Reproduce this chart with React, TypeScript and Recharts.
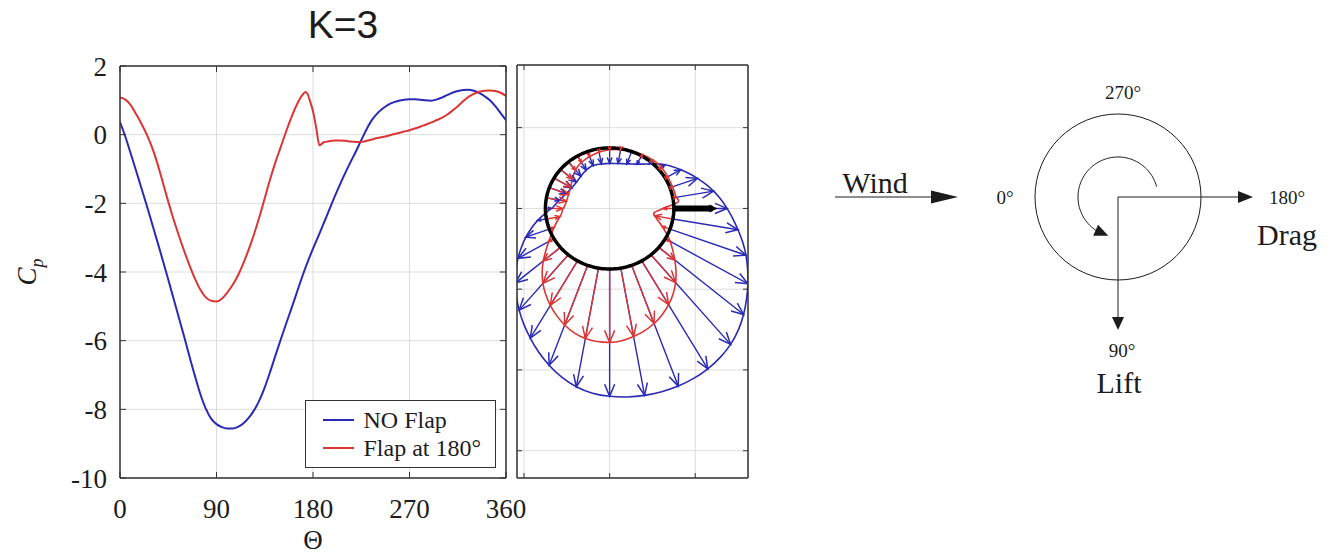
import React from 'react';
import {
  LineChart,
  Line,
  XAxis,
  YAxis,
  CartesianGrid,
  Legend,
  ComposedChart,
  Scatter,
  ReferenceDot,
} from 'recharts';

// ---------------- data ----------------
const theta = [
  0, 5, 10, 15, 20, 25, 30, 35, 40, 45, 50, 55, 60, 65, 70, 75, 80, 85, 90, 95, 100, 105, 110, 115, 120,
  125, 130, 135, 140, 145, 150, 155, 160, 165, 170, 173, 175, 177, 180, 183, 186, 190, 195, 200, 205, 210,
  215, 220, 225, 230, 235, 240, 245, 250, 255, 260, 265, 270, 275, 280, 285, 290, 295, 300, 305, 310, 315,
  320, 325, 330, 335, 340, 345, 350, 355, 360,
];

const cpNoFlap = [
  0.37, -0.06, -0.55, -1.05, -1.56, -2.07, -2.6, -3.13, -3.67, -4.22, -4.78, -5.34, -5.9, -6.48, -7.04, -7.56,
  -7.98, -8.27, -8.43, -8.52, -8.56, -8.56, -8.51, -8.41, -8.25, -8.03, -7.74, -7.36, -6.91, -6.43, -5.96, -5.5,
  -5.05, -4.59, -4.13, -3.87, -3.71, -3.55, -3.32, -3.1, -2.88, -2.58, -2.2, -1.82, -1.46, -1.12, -0.8, -0.49,
  -0.16, 0.16, 0.43, 0.62, 0.76, 0.87, 0.94, 0.99, 1.02, 1.03, 1.03, 1.02, 1.0, 0.99, 1.02, 1.08, 1.15, 1.22,
  1.27, 1.3, 1.31, 1.28, 1.22, 1.12, 1.0, 0.83, 0.63, 0.42,
];

const cpFlap180 = [
  1.08, 1.02, 0.86, 0.6, 0.32, 0.0, -0.38, -0.85, -1.4, -1.95, -2.47, -2.95, -3.4, -3.82, -4.2, -4.52, -4.74,
  -4.84, -4.86, -4.78, -4.6, -4.38, -4.1, -3.75, -3.35, -2.9, -2.4, -1.85, -1.3, -0.8, -0.35, 0.1, 0.52, 0.88,
  1.15, 1.24, 1.18, 1.0, 0.68, 0.2, -0.31, -0.22, -0.19, -0.17, -0.17, -0.18, -0.2, -0.21, -0.21, -0.18, -0.14,
  -0.1, -0.07, -0.03, 0.01, 0.05, 0.09, 0.13, 0.18, 0.23, 0.29, 0.35, 0.42, 0.49, 0.58, 0.7, 0.83, 0.97, 1.1,
  1.19, 1.25, 1.28, 1.29, 1.27, 1.22, 1.13,
];

const seriesNames = ['NO Flap', 'Flap at 180°'];
const thetaTicks = [0, 90, 180, 270, 360];
const cpTicks = [-10, -8, -6, -4, -2, 0, 2];
const panelXTicks = [-1, 0, 1];
const panelYTicks = [-3, -2, -1, 0, 1];
const arrowEvery = 10;

// ---------------- styles / layout ----------------
const BLUE = '#2a2ab6';
const RED = '#dc3535';
const FRAME = '#333333';
const GRID = '#dddddd';
const INK = '#1c1c1c';
const SERIF = '"Liberation Serif", "Times New Roman", serif';
const SANS = '"Liberation Sans", Arial, sans-serif';

const cylinderRadius = 0.75;
const arrowScale = 0.187;
const flapLength = 0.45;
const panelXDomain: [number, number] = [-1.082, 1.616];
const panelYDomain: [number, number] = [-3.338, 1.776];

// ---------------- derived tables ----------------
const mainData = theta.map((t, i) => ({ theta: t, noFlap: cpNoFlap[i], flap: cpFlap180[i] }));

const rad = (d: number) => (d * Math.PI) / 180;
const polarPoint = (t: number, cp: number) => {
  const r = cylinderRadius - arrowScale * cp;
  return { x: -r * Math.cos(rad(t)), y: -r * Math.sin(rad(t)) };
};
const envelope = (cps: number[]) => theta.map((t, i) => polarPoint(t, cps[i]));
const arrowRows = (cps: number[]) => {
  const rows: any[] = [];
  theta.forEach((t, i) => {
    if (t % arrowEvery !== 0 || t >= 360) return;
    const tail = { x: -cylinderRadius * Math.cos(rad(t)), y: -cylinderRadius * Math.sin(rad(t)), head: false };
    const h = polarPoint(t, cps[i]);
    rows.push(tail, { ...h, head: true, dx: h.x - tail.x, dy: h.y - tail.y }, { x: h.x, y: null, head: false });
  });
  return rows;
};
const cylinder = Array.from({ length: 181 }, (_, k) => ({
  x: cylinderRadius * Math.cos(rad(2 * k)),
  y: cylinderRadius * Math.sin(rad(2 * k)),
}));
const flapRows = [
  { x: cylinderRadius, y: 0, head: false },
  { x: cylinderRadius + flapLength, y: 0, head: true },
];

const blueArrows = arrowRows(cpNoFlap);
const redArrows = arrowRows(cpFlap180);
const blueEnvelope = envelope(cpNoFlap);
const redEnvelope = envelope(cpFlap180);

// ---------------- schematic (right-hand sketch) ----------------
const diagramX: [number, number] = [-298, 220];
const diagramY: [number, number] = [-137, 213];
const windShaft = [{ x: -283, y: 0 }, { x: -165, y: 0 }];
const dragShaft = [{ x: 0, y: 0 }, { x: 125, y: 0 }];
const liftShaft = [{ x: 0, y: 0 }, { x: 0, y: 124 }];
const spinRadius = 40;
const spinStart = 15;
const spinEnd = 244;
const spinTip = 256;
const spinHeadBase = 236;
const spinArc = Array.from({ length: Math.floor((spinEnd - spinStart) / 3) + 1 }, (_, k) => {
  const a = rad(spinStart + 3 * k);
  return { x: spinRadius * Math.cos(a), y: -spinRadius * Math.sin(a) };
});
const spinTipPt = { x: spinRadius * Math.cos(rad(spinTip)), y: -spinRadius * Math.sin(rad(spinTip)) };
const spinBasePt = { x: spinRadius * Math.cos(rad(spinHeadBase)), y: -spinRadius * Math.sin(rad(spinHeadBase)) };
const diagramHeads = [
  { x: -160, y: 0, angle: 0, len: 27, hw: 6.5 },
  { x: 135, y: 0, angle: 0, len: 15, hw: 6 },
  { x: 0, y: 133, angle: 90, len: 13, hw: 6 },
  {
    x: spinTipPt.x,
    y: spinTipPt.y,
    angle: (Math.atan2(spinTipPt.y - spinBasePt.y, spinTipPt.x - spinBasePt.x) * 180) / Math.PI,
    len: Math.hypot(spinTipPt.y - spinBasePt.y, spinTipPt.x - spinBasePt.x),
    hw: 6,
  },
];
const diagramLabels = [
  { x: -243, y: -4, text: 'Wind', size: 30, mid: false },
  { x: -113, y: 0, text: '0°', size: 19, mid: true },
  { x: 5, y: -105, text: '270°', size: 19, mid: true },
  { x: 169, y: 0, text: '180°', size: 19, mid: true },
  { x: 169, y: 48, text: 'Drag', size: 30, mid: false },
  { x: 4, y: 153, text: '90°', size: 19, mid: true },
  { x: 1, y: 196, text: 'Lift', size: 30, mid: false },
];

// ---------------- render helpers ----------------
const EmptyTick = () => <g />;

const openHead = (color: string) => (props: any) => {
  const { cx, cy, payload, index, points } = props;
  const key = `ah-${color}-${index}`;
  if (!payload || !payload.head || !Number.isFinite(cx) || !Number.isFinite(cy)) return <g key={key} />;
  let dx = (payload.dx || 0) * 85;
  let dy = -(payload.dy || 0) * 81;
  const prev = points && points[index - 1];
  if (prev && Number.isFinite(prev.x) && Number.isFinite(prev.y)) {
    dx = cx - prev.x;
    dy = cy - prev.y;
  }
  const len = Math.hypot(dx, dy);
  if (!(len > 0.5)) return <g key={key} />;
  const ux = dx / len;
  const uy = dy / len;
  const hl = Math.min(12, Math.max(3.5, len * 0.38));
  const hw = hl * 0.42;
  const bx = cx - ux * hl;
  const by = cy - uy * hl;
  return (
    <path
      key={key}
      d={`M${bx - uy * hw},${by + ux * hw}L${cx},${cy}L${bx + uy * hw},${by - ux * hw}`}
      fill="none"
      stroke={color}
      strokeWidth={1.5}
    />
  );
};

const flapHead = (props: any) => {
  const { cx, cy, payload, index } = props;
  const key = `fh-${index}`;
  if (!payload || !payload.head || !Number.isFinite(cx) || !Number.isFinite(cy)) return <g key={key} />;
  return <path key={key} d={`M${cx - 3},${cy - 4}L${cx + 5},${cy}L${cx - 3},${cy + 4}Z`} fill="#000" stroke="none" />;
};

const HeadShape = (props: any) => {
  const { cx, cy, payload } = props;
  if (!Number.isFinite(cx) || !Number.isFinite(cy)) return <g />;
  const a = rad(payload.angle);
  const ux = Math.cos(a);
  const uy = Math.sin(a);
  const bx = cx - ux * payload.len;
  const by = cy - uy * payload.len;
  return (
    <path
      d={`M${cx},${cy}L${bx - uy * payload.hw},${by + ux * payload.hw}L${bx + uy * payload.hw},${by - ux * payload.hw}Z`}
      fill={INK}
      stroke="none"
    />
  );
};

const LabelShape = (props: any) => {
  const { cx, cy, payload } = props;
  if (!Number.isFinite(cx) || !Number.isFinite(cy)) return <g />;
  return (
    <text
      x={cx}
      y={cy}
      textAnchor="middle"
      dominantBaseline={payload.mid ? 'central' : 'alphabetic'}
      fontFamily={SERIF}
      fontSize={payload.size}
      fill={INK}
    >
      {payload.text}
    </text>
  );
};

const LegendBox = (props: any) => {
  const items = [...(props.payload || [])].sort(
    (a: any, b: any) => seriesNames.indexOf(a.value) - seriesNames.indexOf(b.value)
  );
  return (
    <div
      style={{
        width: 191,
        height: 68,
        boxSizing: 'border-box',
        border: `1.5px solid ${FRAME}`,
        background: '#fff',
        paddingTop: 5,
      }}
    >
      {items.map((it: any) => (
        <div key={it.value} style={{ display: 'flex', alignItems: 'center', height: 28 }}>
          <div style={{ width: 31, height: 2, background: it.color, marginLeft: 16.5, marginRight: 10 }} />
          <span style={{ fontFamily: SERIF, fontSize: 24, color: INK, lineHeight: '28px', whiteSpace: 'nowrap' }}>
            {it.value}
          </span>
        </div>
      ))}
    </div>
  );
};

const thetaLabel = (props: any) => {
  const vb = props.viewBox || { x: 120, y: 478, width: 386, height: 60 };
  return (
    <text x={vb.x + vb.width / 2} y={vb.y + 71} textAnchor="middle" fontFamily={SERIF} fontSize={27} fill={INK}>
      Θ
    </text>
  );
};

const cpLabel = (props: any) => {
  const vb = props.viewBox || { x: 60, y: 66, width: 60, height: 412 };
  const x = vb.x - 24;
  const y = vb.y + vb.height / 2;
  return (
    <text x={x} y={y} transform={`rotate(-90 ${x} ${y})`} textAnchor="middle" fontFamily={SERIF} fontSize={27} fill={INK}>
      <tspan fontStyle="italic">C</tspan>
      <tspan fontStyle="italic" fontSize={18} dy={7}>
        p
      </tspan>
    </text>
  );
};

const axisLine = { stroke: FRAME, strokeWidth: 1.5 };
const tickLine = { stroke: FRAME, strokeWidth: 1 };
const tickStyle = { fontFamily: SERIF, fontSize: 27, fill: INK };

export default function App() {
  return (
    <div
      style={{
        position: 'absolute',
        left: 0,
        top: 0,
        width: 1338,
        height: 557,
        background: '#fff',
        overflow: 'hidden',
      }}
    >
      <svg style={{ position: 'absolute', left: 0, top: 0 }} width={700} height={50}>
        <text x={343} y={38} textAnchor="middle" fontFamily={SANS} fontSize={39} fill={INK}>
          K=3
        </text>
      </svg>

      {/* Cp vs theta */}
      <div style={{ position: 'absolute', left: 0, top: 0 }}>
        <LineChart width={540} height={557} data={mainData} margin={{ top: 65, right: 33, bottom: 19, left: 60 }}>
          <CartesianGrid xAxisId="b" yAxisId="l" stroke={GRID} strokeWidth={1} />
          <XAxis
            xAxisId="b"
            dataKey="theta"
            type="number"
            domain={[0, 360]}
            ticks={thetaTicks}
            interval={0}
            height={60}
            tickSize={-6}
            tickMargin={27}
            axisLine={axisLine}
            tickLine={tickLine}
            tick={tickStyle}
            label={thetaLabel}
            allowDataOverflow
          />
          <XAxis
            xAxisId="t"
            orientation="top"
            dataKey="theta"
            type="number"
            domain={[0, 360]}
            ticks={thetaTicks}
            interval={0}
            height={1}
            tickSize={-6}
            tick={EmptyTick}
            axisLine={axisLine}
            tickLine={tickLine}
            allowDataOverflow
          />
          <YAxis
            yAxisId="l"
            type="number"
            domain={[-10, 2]}
            ticks={cpTicks}
            interval={0}
            width={60}
            tickSize={-6}
            tickMargin={19}
            axisLine={axisLine}
            tickLine={tickLine}
            tick={tickStyle}
            label={cpLabel}
            allowDataOverflow
          />
          <YAxis
            yAxisId="r"
            orientation="right"
            type="number"
            domain={[-10, 2]}
            ticks={cpTicks}
            interval={0}
            width={1}
            tickSize={-6}
            tick={EmptyTick}
            axisLine={axisLine}
            tickLine={tickLine}
            allowDataOverflow
          />
          <Line
            xAxisId="b"
            yAxisId="l"
            dataKey="noFlap"
            name={seriesNames[0]}
            type="monotone"
            stroke={BLUE}
            strokeWidth={2}
            dot={false}
            activeDot={false}
            isAnimationActive={false}
          />
          <Line
            xAxisId="b"
            yAxisId="l"
            dataKey="flap"
            name={seriesNames[1]}
            type="monotone"
            stroke={RED}
            strokeWidth={2}
            dot={false}
            activeDot={false}
            isAnimationActive={false}
          />
          <Legend
            layout="vertical"
            align="center"
            verticalAlign="middle"
            content={LegendBox}
            wrapperStyle={{ left: 305, top: 400, width: 191, height: 68 }}
          />
        </LineChart>
      </div>

      {/* pressure arrows around the cylinder */}
      <div style={{ position: 'absolute', left: 505, top: 0 }}>
        <LineChart width={260} height={557} margin={{ top: 64, right: 16, bottom: 78, left: 11 }}>
          <CartesianGrid xAxisId="b" yAxisId="l" stroke={GRID} strokeWidth={1} />
          <XAxis
            xAxisId="b"
            type="number"
            dataKey="x"
            domain={panelXDomain}
            ticks={panelXTicks}
            interval={0}
            height={1}
            tickSize={-5}
            tick={EmptyTick}
            axisLine={axisLine}
            tickLine={tickLine}
            allowDataOverflow
          />
          <XAxis
            xAxisId="t"
            orientation="top"
            type="number"
            dataKey="x"
            domain={panelXDomain}
            ticks={panelXTicks}
            interval={0}
            height={1}
            tickSize={-5}
            tick={EmptyTick}
            axisLine={axisLine}
            tickLine={tickLine}
            allowDataOverflow
          />
          <YAxis
            yAxisId="l"
            type="number"
            dataKey="y"
            domain={panelYDomain}
            ticks={panelYTicks}
            interval={0}
            width={1}
            tickSize={-5}
            tick={EmptyTick}
            axisLine={axisLine}
            tickLine={tickLine}
            allowDataOverflow
          />
          <YAxis
            yAxisId="r"
            orientation="right"
            type="number"
            dataKey="y"
            domain={panelYDomain}
            ticks={panelYTicks}
            interval={0}
            width={1}
            tickSize={-5}
            tick={EmptyTick}
            axisLine={axisLine}
            tickLine={tickLine}
            allowDataOverflow
          />
          <Line
            xAxisId="b"
            yAxisId="l"
            data={blueArrows}
            dataKey="y"
            type="linear"
            stroke={BLUE}
            strokeWidth={1.4}
            dot={openHead(BLUE)}
            activeDot={false}
            legendType="none"
            isAnimationActive={false}
          />
          <Line
            xAxisId="b"
            yAxisId="l"
            data={blueEnvelope}
            dataKey="y"
            type="natural"
            stroke={BLUE}
            strokeWidth={1.6}
            dot={false}
            activeDot={false}
            legendType="none"
            isAnimationActive={false}
          />
          <Line
            xAxisId="b"
            yAxisId="l"
            data={redArrows}
            dataKey="y"
            type="linear"
            stroke={RED}
            strokeWidth={1.4}
            dot={openHead(RED)}
            activeDot={false}
            legendType="none"
            isAnimationActive={false}
          />
          <Line
            xAxisId="b"
            yAxisId="l"
            data={redEnvelope}
            dataKey="y"
            type="natural"
            stroke={RED}
            strokeWidth={1.6}
            dot={false}
            activeDot={false}
            legendType="none"
            isAnimationActive={false}
          />
          <Line
            xAxisId="b"
            yAxisId="l"
            data={cylinder}
            dataKey="y"
            type="linear"
            stroke="#000"
            strokeWidth={3.5}
            dot={false}
            activeDot={false}
            legendType="none"
            isAnimationActive={false}
          />
          <Line
            xAxisId="b"
            yAxisId="l"
            data={flapRows}
            dataKey="y"
            type="linear"
            stroke="#000"
            strokeWidth={6}
            dot={flapHead}
            activeDot={false}
            legendType="none"
            isAnimationActive={false}
          />
        </LineChart>
      </div>

      {/* schematic: wind, rotation, lift and drag directions */}
      <div style={{ position: 'absolute', left: 820, top: 60 }}>
        <ComposedChart width={518} height={350} margin={{ top: 0, right: 0, bottom: 0, left: 0 }}>
          <XAxis type="number" dataKey="x" domain={diagramX} hide allowDataOverflow />
          <YAxis type="number" dataKey="y" domain={diagramY} reversed hide allowDataOverflow />
          <ReferenceDot x={0} y={0} r={83} fill="none" stroke={INK} strokeWidth={1} ifOverflow="visible" />
          <Line data={windShaft} dataKey="y" type="linear" stroke={INK} strokeWidth={1} dot={false} activeDot={false} isAnimationActive={false} />
          <Line data={dragShaft} dataKey="y" type="linear" stroke={INK} strokeWidth={1} dot={false} activeDot={false} isAnimationActive={false} />
          <Line data={liftShaft} dataKey="y" type="linear" stroke={INK} strokeWidth={1} dot={false} activeDot={false} isAnimationActive={false} />
          <Line data={spinArc} dataKey="y" type="linear" stroke={INK} strokeWidth={1} dot={false} activeDot={false} isAnimationActive={false} />
          <Scatter data={diagramHeads} shape={HeadShape} isAnimationActive={false} />
          <Scatter data={diagramLabels} shape={LabelShape} isAnimationActive={false} />
        </ComposedChart>
      </div>
    </div>
  );
}
